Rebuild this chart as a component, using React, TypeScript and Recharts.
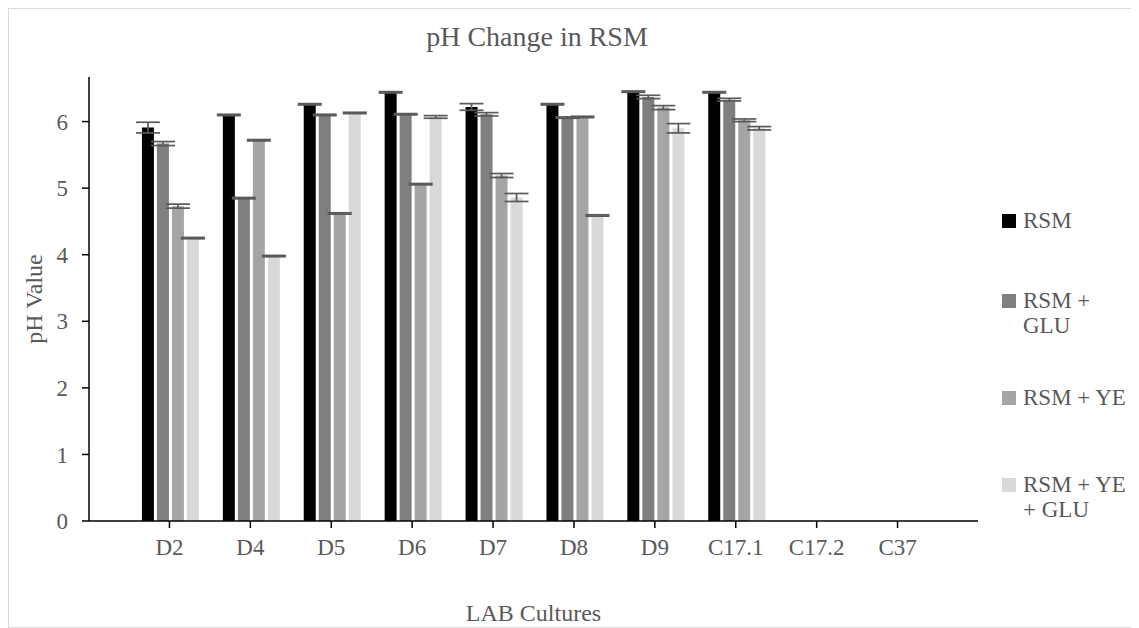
import { BarChart, Bar, XAxis, YAxis, ErrorBar } from 'recharts';

const categories = ['D2', 'D4', 'D5', 'D6', 'D7', 'D8', 'D9', 'C17.1', 'C17.2', 'C37'];

const rsm = [5.91, 6.1, 6.26, 6.44, 6.22, 6.26, 6.45, 6.44, 0, 0];
const rsmErr = [0.08, 0.01, 0.01, 0.01, 0.05, 0.01, 0.01, 0.01, 0, 0];
const rsmGlu = [5.67, 4.85, 6.1, 6.11, 6.11, 6.06, 6.37, 6.33, 0, 0];
const rsmGluErr = [0.03, 0.01, 0.01, 0.01, 0.025, 0.01, 0.025, 0.02, 0, 0];
const rsmYe = [4.73, 5.72, 4.62, 5.06, 5.19, 6.07, 6.21, 6.02, 0, 0];
const rsmYeErr = [0.03, 0.01, 0.01, 0.01, 0.03, 0.01, 0.03, 0.02, 0, 0];
const rsmYeGlu = [4.25, 3.98, 6.13, 6.07, 4.86, 4.59, 5.9, 5.9, 0, 0];
const rsmYeGluErr = [0.01, 0.01, 0.01, 0.02, 0.06, 0.01, 0.07, 0.025, 0, 0];

const yTicks = [0, 1, 2, 3, 4, 5, 6];

const series = [
  { key: 'rsm', err: 'rsmErr', name: 'RSM', color: '#000000', lines: ['RSM'] },
  { key: 'rsmGlu', err: 'rsmGluErr', name: 'RSM + GLU', color: '#7f7f7f', lines: ['RSM +', 'GLU'] },
  { key: 'rsmYe', err: 'rsmYeErr', name: 'RSM + YE', color: '#a5a5a5', lines: ['RSM + YE'] },
  { key: 'rsmYeGlu', err: 'rsmYeGluErr', name: 'RSM + YE + GLU', color: '#d9d9d9', lines: ['RSM + YE', '+ GLU'] },
];

const data = categories.map((c, i) => ({
  name: c,
  rsm: rsm[i],
  rsmErr: rsmErr[i],
  rsmGlu: rsmGlu[i],
  rsmGluErr: rsmGluErr[i],
  rsmYe: rsmYe[i],
  rsmYeErr: rsmYeErr[i],
  rsmYeGlu: rsmYeGlu[i],
  rsmYeGluErr: rsmYeGluErr[i],
}));

const font = '"Liberation Serif", "Times New Roman", serif';
const textColor = '#595959';

// top of each legend entry, px inside the frame
const legendTops = [199, 279, 376, 463];

export default function App() {
  return (
    <div
      style={{
        position: 'relative',
        width: 1131,
        height: 620,
        border: '1px solid #d9d9d9',
        boxSizing: 'border-box',
        fontFamily: font,
        background: '#fff',
      }}
    >
      <div
        style={{
          position: 'absolute',
          top: 12,
          left: 0,
          width: 1056,
          textAlign: 'center',
          fontSize: 28,
          color: textColor,
        }}
      >
        pH Change in RSM
      </div>
      <BarChart
        width={1129}
        height={618}
        data={data}
        margin={{ top: 68, right: 160, bottom: 0, left: 0 }}
        barCategoryGap="16%"
        barGap={3}
      >
        <XAxis
          xAxisId="frame"
          type="number"
          domain={[0, 1]}
          ticks={[0, 1]}
          tick={false}
          axisLine={false}
          tickLine={{ stroke: '#000', strokeWidth: 1.5 }}
          tickSize={7}
          height={0}
        />
        <XAxis
          dataKey="name"
          height={106}
          padding={{ left: 40, right: 40 }}
          axisLine={{ stroke: '#000', strokeWidth: 1.5 }}
          tickLine={{ stroke: '#000', strokeWidth: 1.5 }}
          tickSize={7}
          tick={{ fontSize: 23, fill: textColor, fontFamily: font }}
          tickMargin={11}
          interval={0}
          label={{
            value: 'LAB Cultures',
            position: 'insideBottom',
            offset: 6,
            fontSize: 24,
            fill: textColor,
            fontFamily: font,
          }}
        />
        <YAxis
          width={80}
          domain={[0, 6.67]}
          ticks={yTicks}
          allowDataOverflow
          axisLine={{ stroke: '#000', strokeWidth: 1.5 }}
          tickLine={{ stroke: '#000', strokeWidth: 1.5 }}
          tickSize={7}
          tickMargin={14}
          tick={{ fontSize: 23, fill: textColor, fontFamily: font }}
          label={{
            value: 'pH Value',
            angle: -90,
            position: 'insideLeft',
            offset: 24,
            fontSize: 24,
            fill: textColor,
            fontFamily: font,
            style: { textAnchor: 'middle' },
          }}
        />
        {series.map((s) => (
          <Bar key={s.key} dataKey={s.key} name={s.name} fill={s.color} isAnimationActive={false}>
            <ErrorBar dataKey={s.err} width={12} stroke="#595959" strokeWidth={1.7} direction="y" />
          </Bar>
        ))}
      </BarChart>
      {series.map((s, i) => (
        <div
          key={s.key}
          style={{
            position: 'absolute',
            left: 993,
            top: legendTops[i],
            display: 'flex',
            alignItems: 'flex-start',
            fontSize: 23,
            lineHeight: '25px',
            color: textColor,
          }}
        >
          <div
            style={{
              width: 14,
              height: 14,
              background: s.color,
              marginTop: 6,
              marginRight: 7,
            }}
          />
          <div>
            {s.lines.map((l) => (
              <div key={l}>{l}</div>
            ))}
          </div>
        </div>
      ))}
    </div>
  );
}
